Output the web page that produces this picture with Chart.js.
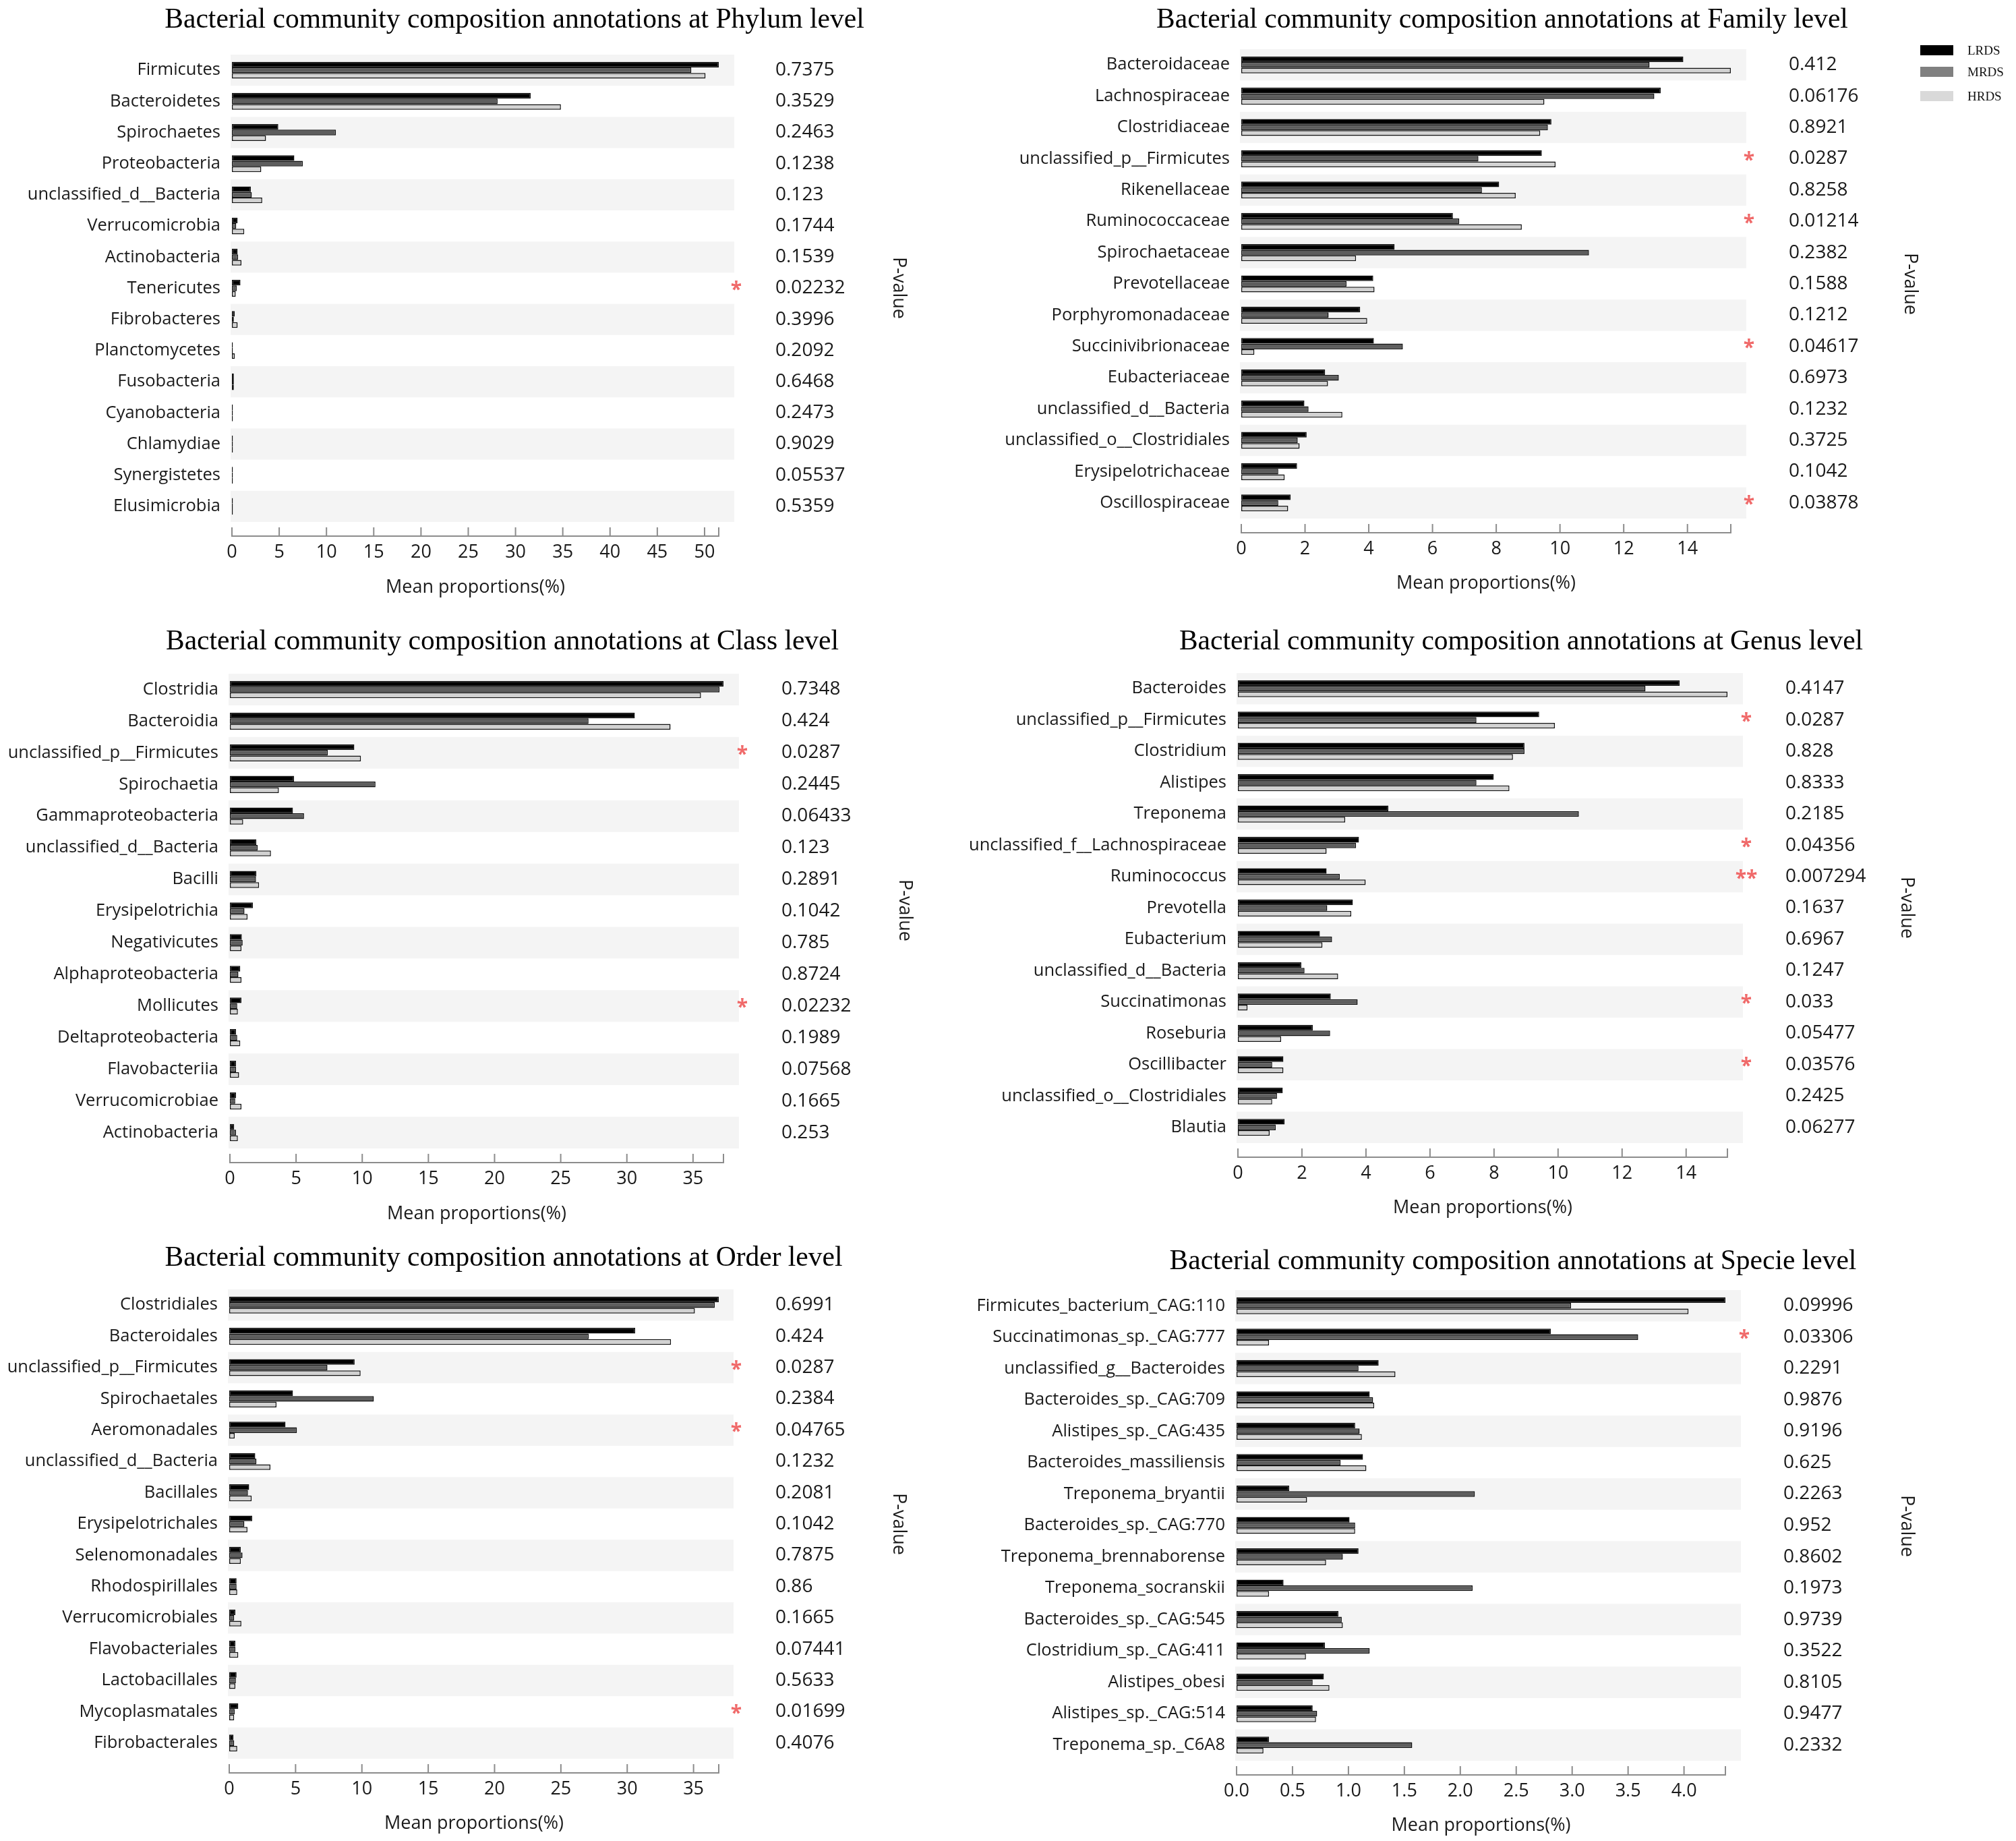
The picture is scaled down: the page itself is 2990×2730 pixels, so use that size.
<!DOCTYPE html>
<html>
<head>
<meta charset="utf-8">
<script src="https://cdn.jsdelivr.net/npm/chart.js@4.4.1/dist/chart.umd.min.js"></script>
<style>
  html, body { margin: 0; padding: 0; background: #fff; }
  #wrap { position: relative; width: 2990px; height: 2730px; }
  #wrap canvas { position: absolute; }
  .lg { position: absolute; left: 2848px; height: 15px; display: flex; align-items: center;
        font-family: 'Liberation Serif', 'Times New Roman', serif; font-size: 19px; color: #111; }
  .lg span { display: inline-block; width: 49px; height: 15px; margin-right: 21px; }
</style>
</head>
<body>
<div id="wrap">
  <canvas id="phylum" width="1400" height="910" style="left:0;top:0"></canvas>
  <canvas id="family" width="1590" height="910" style="left:1400px;top:0"></canvas>
  <canvas id="class" width="1400" height="910" style="left:0;top:910px"></canvas>
  <canvas id="genus" width="1590" height="910" style="left:1400px;top:910px"></canvas>
  <canvas id="order" width="1400" height="910" style="left:0;top:1820px"></canvas>
  <canvas id="specie" width="1590" height="910" style="left:1400px;top:1820px"></canvas>
  <div class="lg" style="top:67px"><span style="background:#000"></span>LRDS</div>
  <div class="lg" style="top:99px"><span style="background:#808080"></span>MRDS</div>
  <div class="lg" style="top:135px"><span style="background:#d9d9d9"></span>HRDS</div>
</div>
<script>
const groups = ['LRDS', 'MRDS', 'HRDS'];

// Phylum
const phylumNames = ['Firmicutes', 'Bacteroidetes', 'Spirochaetes', 'Proteobacteria', 'unclassified_d__Bacteria',
  'Verrucomicrobia', 'Actinobacteria', 'Tenericutes', 'Fibrobacteres', 'Planctomycetes', 'Fusobacteria',
  'Cyanobacteria', 'Chlamydiae', 'Synergistetes', 'Elusimicrobia'];
const phylumLRDS = [51.5, 31.6, 4.9, 6.6, 2.0, 0.6, 0.6, 0.9, 0.3, 0.1, 0.2, 0.1, 0.1, 0.1, 0.1];
const phylumMRDS = [48.6, 28.1, 11.0, 7.5, 2.1, 0.45, 0.65, 0.5, 0.2, 0.1, 0.2, 0.1, 0.1, 0.1, 0.1];
const phylumHRDS = [50.1, 34.8, 3.6, 3.1, 3.2, 1.3, 1.0, 0.4, 0.6, 0.3, 0.2, 0.1, 0.1, 0.1, 0.1];
const phylumP = ['0.7375', '0.3529', '0.2463', '0.1238', '0.123', '0.1744', '0.1539', '0.02232', '0.3996',
  '0.2092', '0.6468', '0.2473', '0.9029', '0.05537', '0.5359'];

// Family
const familyNames = ['Bacteroidaceae', 'Lachnospiraceae', 'Clostridiaceae', 'unclassified_p__Firmicutes',
  'Rikenellaceae', 'Ruminococcaceae', 'Spirochaetaceae', 'Prevotellaceae', 'Porphyromonadaceae',
  'Succinivibrionaceae', 'Eubacteriaceae', 'unclassified_d__Bacteria', 'unclassified_o__Clostridiales',
  'Erysipelotrichaceae', 'Oscillospiraceae'];
const familyLRDS = [13.87, 13.16, 9.73, 9.43, 8.09, 6.64, 4.81, 4.14, 3.73, 4.16, 2.63, 1.98, 2.05, 1.75, 1.55];
const familyMRDS = [12.81, 12.96, 9.62, 7.44, 7.55, 6.84, 10.91, 3.30, 2.74, 5.07, 3.06, 2.11, 1.77, 1.16, 1.16];
const familyHRDS = [15.36, 9.51, 9.38, 9.86, 8.61, 8.80, 3.60, 4.18, 3.95, 0.41, 2.72, 3.17, 1.83, 1.36, 1.47];
const familyP = ['0.412', '0.06176', '0.8921', '0.0287', '0.8258', '0.01214', '0.2382', '0.1588', '0.1212',
  '0.04617', '0.6973', '0.1232', '0.3725', '0.1042', '0.03878'];

// Class
const classNames = ['Clostridia', 'Bacteroidia', 'unclassified_p__Firmicutes', 'Spirochaetia',
  'Gammaproteobacteria', 'unclassified_d__Bacteria', 'Bacilli', 'Erysipelotrichia', 'Negativicutes',
  'Alphaproteobacteria', 'Mollicutes', 'Deltaproteobacteria', 'Flavobacteriia', 'Verrucomicrobiae', 'Actinobacteria'];
const classLRDS = [37.3, 30.6, 9.4, 4.85, 4.76, 2.0, 2.0, 1.74, 0.9, 0.78, 0.87, 0.46, 0.46, 0.46, 0.32];
const classMRDS = [37.0, 27.1, 7.4, 11.0, 5.6, 2.1, 1.97, 1.1, 0.96, 0.64, 0.55, 0.55, 0.46, 0.4, 0.46];
const classHRDS = [35.6, 33.3, 9.9, 3.7, 1.0, 3.1, 2.2, 1.33, 0.87, 0.87, 0.6, 0.78, 0.69, 0.87, 0.6];
const classP = ['0.7348', '0.424', '0.0287', '0.2445', '0.06433', '0.123', '0.2891', '0.1042', '0.785',
  '0.8724', '0.02232', '0.1989', '0.07568', '0.1665', '0.253'];

// Genus
const genusNames = ['Bacteroides', 'unclassified_p__Firmicutes', 'Clostridium', 'Alistipes', 'Treponema',
  'unclassified_f__Lachnospiraceae', 'Ruminococcus', 'Prevotella', 'Eubacterium', 'unclassified_d__Bacteria',
  'Succinatimonas', 'Roseburia', 'Oscillibacter', 'unclassified_o__Clostridiales', 'Blautia'];
const genusLRDS = [13.8, 9.41, 8.95, 7.99, 4.7, 3.78, 2.77, 3.59, 2.56, 1.98, 2.9, 2.34, 1.42, 1.4, 1.46];
const genusMRDS = [12.73, 7.45, 8.95, 7.45, 10.65, 3.69, 3.18, 2.79, 2.94, 2.08, 3.74, 2.88, 1.07, 1.22, 1.18];
const genusHRDS = [15.29, 9.9, 8.59, 8.48, 3.35, 2.77, 3.99, 3.54, 2.64, 3.13, 0.3, 1.35, 1.42, 1.07, 0.99];
const genusP = ['0.4147', '0.0287', '0.828', '0.8333', '0.2185', '0.04356', '0.007294', '0.1637', '0.6967',
  '0.1247', '0.033', '0.05477', '0.03576', '0.2425', '0.06277'];

// Order
const orderNames = ['Clostridiales', 'Bacteroidales', 'unclassified_p__Firmicutes', 'Spirochaetales',
  'Aeromonadales', 'unclassified_d__Bacteria', 'Bacillales', 'Erysipelotrichales', 'Selenomonadales',
  'Rhodospirillales', 'Verrucomicrobiales', 'Flavobacteriales', 'Lactobacillales', 'Mycoplasmatales', 'Fibrobacterales'];
const orderLRDS = [36.9, 30.6, 9.45, 4.8, 4.24, 1.96, 1.5, 1.73, 0.87, 0.55, 0.46, 0.46, 0.55, 0.68, 0.32];
const orderMRDS = [36.6, 27.1, 7.4, 10.9, 5.1, 2.05, 1.41, 1.14, 1.0, 0.55, 0.37, 0.46, 0.5, 0.41, 0.37];
const orderHRDS = [35.1, 33.3, 9.9, 3.56, 0.41, 3.1, 1.69, 1.37, 0.87, 0.6, 0.91, 0.68, 0.46, 0.37, 0.6];
const orderP = ['0.6991', '0.424', '0.0287', '0.2384', '0.04765', '0.1232', '0.2081', '0.1042', '0.7875',
  '0.86', '0.1665', '0.07441', '0.5633', '0.01699', '0.4076'];

// Specie
const specieNames = ['Firmicutes_bacterium_CAG:110', 'Succinatimonas_sp._CAG:777', 'unclassified_g__Bacteroides',
  'Bacteroides_sp._CAG:709', 'Alistipes_sp._CAG:435', 'Bacteroides_massiliensis', 'Treponema_bryantii',
  'Bacteroides_sp._CAG:770', 'Treponema_brennaborense', 'Treponema_socranskii', 'Bacteroides_sp._CAG:545',
  'Clostridium_sp._CAG:411', 'Alistipes_obesi', 'Alistipes_sp._CAG:514', 'Treponema_sp._C6A8'];
const specieLRDS = [4.37, 2.81, 1.27, 1.19, 1.06, 1.13, 0.47, 1.01, 1.09, 0.42, 0.91, 0.79, 0.78, 0.68, 0.29];
const specieMRDS = [2.99, 3.59, 1.09, 1.22, 1.10, 0.93, 2.13, 1.06, 0.95, 2.11, 0.94, 1.19, 0.68, 0.72, 1.57];
const specieHRDS = [4.04, 0.29, 1.42, 1.23, 1.12, 1.16, 0.63, 1.06, 0.80, 0.29, 0.95, 0.62, 0.83, 0.71, 0.24];
const specieP = ['0.09996', '0.03306', '0.2291', '0.9876', '0.9196', '0.625', '0.2263', '0.952', '0.8602',
  '0.1973', '0.9739', '0.3522', '0.8105', '0.9477', '0.2332'];

const barColors = ['#000000', '#5e5e5e', '#d2d2d2'];
const SANS = "'Open Sans', 'DejaVu Sans', sans-serif";
const SERIF = "'Liberation Serif', 'Times New Roman', serif";

function stars(p) {
  const v = parseFloat(p);
  return v < 0.01 ? '**' : v < 0.05 ? '*' : '';
}

// draws the striped rows, the axis line with upward ticks, p-values and the titles
const decor = {
  id: 'decor',
  beforeDatasetsDraw(chart, args, o) {
    const { ctx, chartArea: a, scales: { y } } = chart;
    const h = (a.bottom - a.top) / chart.data.labels.length;
    ctx.save();
    ctx.fillStyle = '#f4f4f4';
    chart.data.labels.forEach((_, i) => {
      if (i % 2) return;
      const yc = y.getPixelForValue(i);
      ctx.fillRect(a.left - 2, yc - h / 2, o.bandRight - a.left + 2, h);
    });
    ctx.restore();
  },
  afterDraw(chart, args, o) {
    const { ctx, chartArea: a, scales: { x, y } } = chart;
    ctx.save();
    // axis
    const ay = a.bottom + 21;
    ctx.strokeStyle = '#8c8c8c';
    ctx.lineWidth = 2;
    ctx.beginPath();
    ctx.moveTo(x.getPixelForValue(0), ay);
    ctx.lineTo(x.right, ay);
    x.ticks.map(t => x.getPixelForValue(t.value)).concat([x.right]).forEach(px => {
      ctx.moveTo(px, ay + 1);
      ctx.lineTo(px, ay - 13);
    });
    ctx.stroke();

    // p-values and stars
    ctx.textBaseline = 'middle';
    o.pvalues.forEach((p, i) => {
      const yc = y.getPixelForValue(i);
      ctx.fillStyle = '#1a1a1a';
      ctx.font = '28px ' + SANS;
      ctx.textAlign = 'left';
      ctx.fillText(p, o.pvalX, yc);
      const s = stars(p);
      if (s) {
        ctx.fillStyle = '#f06a6a';
        ctx.font = 'bold 30px ' + SANS;
        ctx.textAlign = 'center';
        ctx.fillText(s, o.starX, yc + 3);
      }
    });

    // rotated P-value label
    ctx.save();
    ctx.translate(o.pLabel[0], o.pLabel[1]);
    ctx.rotate(Math.PI / 2);
    ctx.fillStyle = '#1a1a1a';
    ctx.font = '27px ' + SANS;
    ctx.textAlign = 'center';
    ctx.fillText('P-value', 0, 0);
    ctx.restore();

    // panel title
    ctx.fillStyle = '#000';
    ctx.font = '41.5px ' + SERIF;
    ctx.textAlign = 'center';
    ctx.fillText(o.title, o.titlePos[0], o.titlePos[1]);
    ctx.restore();
  }
};

function makePanel(id, names, L, M, H, pv, title, step, lay) {
  const canvas = document.getElementById(id);
  const cw = canvas.width, ch = canvas.height;
  const xh = lay.axisTitleY - lay.B + 16;
  const max = Math.max(...L, ...M, ...H);
  new Chart(canvas, {
    type: 'bar',
    data: {
      labels: names,
      datasets: [L, M, H].map((d, k) => ({
        label: groups[k],
        data: d,
        backgroundColor: barColors[k],
        borderColor: '#111',
        borderWidth: 1.5,
        borderSkipped: false,
        categoryPercentage: 0.54,
        barPercentage: 1
      }))
    },
    plugins: [decor],
    options: {
      indexAxis: 'y',
      responsive: false,
      devicePixelRatio: 1,
      animation: false,
      layout: { padding: { left: 0, top: lay.T, right: cw - lay.R, bottom: ch - lay.B - xh } },
      scales: {
        x: {
          min: 0,
          max: max,
          bounds: 'data',
          grid: { display: false, drawTicks: false },
          border: { display: false },
          ticks: {
            stepSize: step,
            includeBounds: false,
            padding: 29,
            color: '#1a1a1a',
            font: { family: SANS, size: 27 },
            callback: v => step < 1 ? v.toFixed(1) : String(v)
          },
          title: {
            display: true,
            text: 'Mean proportions(%)',
            color: '#1a1a1a',
            padding: 0,
            font: { family: SANS, size: 27 }
          },
          afterFit: s => { s.height = xh; }
        },
        y: {
          grid: { display: false, drawTicks: false },
          border: { display: false },
          ticks: { padding: 17, color: '#1a1a1a', font: { family: SANS, size: 25.5 } },
          afterFit: s => { s.width = lay.L; }
        }
      },
      plugins: {
        legend: { display: false },
        tooltip: { enabled: false },
        decor: {
          pvalues: pv,
          title: title,
          bandRight: lay.bandR,
          pvalX: lay.pvalX,
          starX: lay.starX,
          pLabel: lay.pLabel,
          titlePos: lay.titlePos
        }
      }
    }
  });
}

makePanel('phylum', phylumNames, phylumLRDS, phylumMRDS, phylumHRDS, phylumP,
  'Bacterial community composition annotations at Phylum level', 5,
  { L: 344, R: 1066, T: 81, B: 774, bandR: 1089, pvalX: 1150, starX: 1092, pLabel: [1333, 427], titlePos: [763, 30], axisTitleY: 872 });
makePanel('family', familyNames, familyLRDS, familyMRDS, familyHRDS, familyP,
  'Bacterial community composition annotations at Family level', 2,
  { L: 441, R: 1167, T: 73, B: 769, bandR: 1190, pvalX: 1253, starX: 1194, pLabel: [1433, 421], titlePos: [828, 30], axisTitleY: 866 });
makePanel('class', classNames, classLRDS, classMRDS, classHRDS, classP,
  'Bacterial community composition annotations at Class level', 5,
  { L: 341, R: 1073, T: 89, B: 793, bandR: 1096, pvalX: 1159, starX: 1101, pLabel: [1342, 440], titlePos: [745, 42], axisTitleY: 891 });
makePanel('genus', genusNames, genusLRDS, genusMRDS, genusHRDS, genusP,
  'Bacterial community composition annotations at Genus level', 2,
  { L: 436, R: 1162, T: 88, B: 785, bandR: 1185, pvalX: 1248, starX: 1190, pLabel: [1428, 436], titlePos: [856, 42], axisTitleY: 882 });
makePanel('order', orderNames, orderLRDS, orderMRDS, orderHRDS, orderP,
  'Bacterial community composition annotations at Order level', 5,
  { L: 340, R: 1066, T: 92, B: 788, bandR: 1088, pvalX: 1150, starX: 1092, pLabel: [1333, 440], titlePos: [747, 46], axisTitleY: 885 });
makePanel('specie', specieNames, specieLRDS, specieMRDS, specieHRDS, specieP,
  'Bacterial community composition annotations at Specie level', 0.5,
  { L: 434, R: 1159, T: 93, B: 791, bandR: 1182, pvalX: 1245, starX: 1187, pLabel: [1428, 443], titlePos: [844, 51], axisTitleY: 888 });
</script>
</body>
</html>
